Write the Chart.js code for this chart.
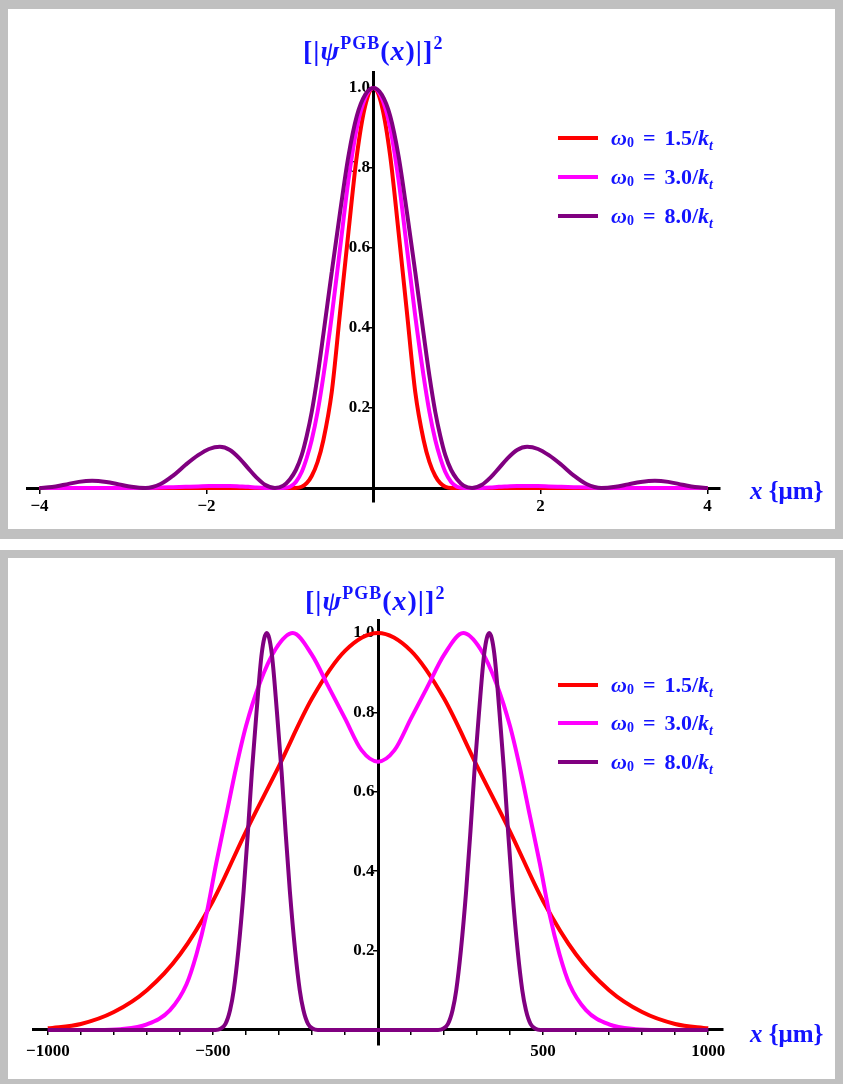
<!DOCTYPE html>
<html>
<head>
<meta charset="utf-8">
<script src="https://cdn.jsdelivr.net/npm/chart.js@4.4.1/dist/chart.umd.min.js"></script>
<style>
body{margin:0;width:843px;height:1084px;background:#fff;position:relative;overflow:hidden;font-family:"Liberation Serif",serif}
.frame{position:absolute;left:0;width:843px;box-sizing:border-box;border:8px solid #c0c0c0;background:#fff}
canvas{position:absolute;left:0}
.ttl{position:absolute;color:#1414ff;font-weight:bold;font-size:28px;letter-spacing:1px;white-space:nowrap;line-height:1}
.ttl sup{font-size:18px;vertical-align:11px}
.xl{position:absolute;color:#1414ff;font-weight:bold;font-size:25px;white-space:nowrap;line-height:1}
.leg{position:absolute;left:558px;height:24px;display:flex;align-items:center;color:#1414ff;font-weight:bold;font-size:22px;white-space:nowrap}
.leg span.ln{display:inline-block;width:40px;height:4px;margin-right:13px}
.leg sub{font-size:14px;position:relative;top:5px;vertical-align:baseline}
.leg .eq{margin:0 9px}
</style>
</head>
<body>
<div class="frame" style="top:0;height:539px;border-top-width:9px;border-bottom-width:10px"></div>
<div class="frame" style="top:550px;height:537px"></div>
<canvas id="top" width="843" height="539" style="top:0"></canvas>
<canvas id="bot" width="843" height="534" style="top:550px"></canvas>

<div class="ttl" style="left:303px;top:34px">[|<i>ψ</i><sup>PGB</sup>(<i>x</i>)|]<sup>2</sup></div>
<div class="xl" style="left:750px;top:478px"><i>x</i> {μm}</div>
<div class="leg" style="top:126px"><span class="ln" style="background:#ff0000"></span><i>ω</i><sub>0</sub><span class="eq">=</span>1.5/<i>k<sub>t</sub></i></div>
<div class="leg" style="top:165px"><span class="ln" style="background:#ff00ff"></span><i>ω</i><sub>0</sub><span class="eq">=</span>3.0/<i>k<sub>t</sub></i></div>
<div class="leg" style="top:204px"><span class="ln" style="background:#800080"></span><i>ω</i><sub>0</sub><span class="eq">=</span>8.0/<i>k<sub>t</sub></i></div>

<div class="ttl" style="left:305px;top:584px">[|<i>ψ</i><sup>PGB</sup>(<i>x</i>)|]<sup>2</sup></div>
<div class="xl" style="left:750px;top:1021px"><i>x</i> {μm}</div>
<div class="leg" style="top:673px"><span class="ln" style="background:#ff0000"></span><i>ω</i><sub>0</sub><span class="eq">=</span>1.5/<i>k<sub>t</sub></i></div>
<div class="leg" style="top:711px"><span class="ln" style="background:#ff00ff"></span><i>ω</i><sub>0</sub><span class="eq">=</span>3.0/<i>k<sub>t</sub></i></div>
<div class="leg" style="top:750px"><span class="ln" style="background:#800080"></span><i>ω</i><sub>0</sub><span class="eq">=</span>8.0/<i>k<sub>t</sub></i></div>

<script>
// top panel, x in µm
const topX = [-4, -3.85, -3.7, -3.53, -3.37, -3.2, -3.05, -2.9, -2.73, -2.55, -2.4, -2.25, -2.1, -1.97, -1.84, -1.72, -1.6, -1.5, -1.4, -1.3, -1.18, -1.08, -1, -0.93, -0.86, -0.8, -0.74, -0.67, -0.6, -0.5, -0.4, -0.3, -0.2, -0.1, 0,
  0.1, 0.2, 0.3, 0.4, 0.5, 0.6, 0.67, 0.74, 0.8, 0.86, 0.93, 1, 1.08, 1.18, 1.3, 1.4, 1.5, 1.6, 1.72, 1.84, 1.97, 2.1, 2.25, 2.4, 2.55, 2.73, 2.9, 3.05, 3.2, 3.37, 3.53, 3.7, 3.85, 4];
const topRed = [0, 0, 0, 0, 0, 0, 0, 0, 0, 0, 0, 0, 0, 0, 0, 0, 0, 0, 0, 0, 0, 0, 0, 0, 0.003, 0.012, 0.03, 0.065, 0.12, 0.24, 0.44, 0.64, 0.83, 0.955, 1,
  0.955, 0.83, 0.64, 0.44, 0.24, 0.12, 0.065, 0.03, 0.012, 0.003, 0, 0, 0, 0, 0, 0, 0, 0, 0, 0, 0, 0, 0, 0, 0, 0, 0, 0, 0, 0, 0, 0, 0, 0];
const topMagenta = [0, 0, 0, 0, 0, 0, 0, 0, 0, 0.001, 0.002, 0.003, 0.004, 0.005, 0.005, 0.005, 0.004, 0.003, 0.001, 0, 0, 0, 0.003, 0.015, 0.04, 0.075, 0.12, 0.19, 0.28, 0.43, 0.6, 0.77, 0.9, 0.975, 1,
  0.975, 0.9, 0.77, 0.6, 0.43, 0.28, 0.19, 0.12, 0.075, 0.04, 0.015, 0.003, 0, 0, 0, 0.001, 0.003, 0.004, 0.005, 0.005, 0.005, 0.004, 0.003, 0.002, 0.001, 0, 0, 0, 0, 0, 0, 0, 0, 0];
const topPurple = [0, 0.0024, 0.0083, 0.0153, 0.018, 0.015, 0.009, 0.003, 0, 0.01, 0.031, 0.058, 0.082, 0.0975, 0.103, 0.095, 0.073, 0.049, 0.026, 0.008, 0, 0.006, 0.022, 0.045, 0.082, 0.13, 0.19, 0.28, 0.385, 0.54, 0.69, 0.83, 0.93, 0.983, 1,
  0.983, 0.93, 0.83, 0.69, 0.54, 0.385, 0.28, 0.19, 0.13, 0.082, 0.045, 0.022, 0.006, 0, 0.008, 0.026, 0.049, 0.073, 0.095, 0.103, 0.0975, 0.082, 0.058, 0.031, 0.01, 0, 0.003, 0.009, 0.015, 0.018, 0.0153, 0.0083, 0.0024, 0];
const topXTicks = [-4, -2, 2, 4];

// bottom panel
const botRedX = [-1000, -900, -800, -700, -600, -500, -400, -300, -200, -100, 0, 100, 200, 300, 400, 500, 600, 700, 800, 900, 1000];
const botRed = [0.004, 0.015, 0.045, 0.1, 0.19, 0.325, 0.5, 0.665, 0.835, 0.955, 1, 0.955, 0.835, 0.665, 0.5, 0.325, 0.19, 0.1, 0.045, 0.015, 0.004];
const botMagX = [-1000, -850, -780, -700, -630, -580, -550, -520, -490, -460, -430, -400, -360, -310, -258, -200, -150, -100, -50, 0,
  50, 100, 150, 200, 258, 310, 360, 400, 430, 460, 490, 520, 550, 580, 630, 700, 780, 850, 1000];
const botMagenta = [0, 0, 0.002, 0.014, 0.05, 0.115, 0.19, 0.29, 0.42, 0.54, 0.66, 0.765, 0.87, 0.96, 1, 0.945, 0.865, 0.785, 0.705, 0.676,
  0.705, 0.785, 0.865, 0.945, 1, 0.96, 0.87, 0.765, 0.66, 0.54, 0.42, 0.29, 0.19, 0.115, 0.05, 0.014, 0.002, 0, 0];
const botPurX = [-1000, -500, -492, -477, -462, -448, -437, -423, -407, -394, -382, -368, -352, -337, -322, -306, -292, -280, -267, -251, -237, -226, -212, -197, -182, 0,
  182, 197, 212, 226, 237, 251, 267, 280, 292, 306, 322, 337, 352, 368, 382, 394, 407, 423, 437, 448, 462, 477, 492, 500, 1000];
const botPurple = [0, 0, 0, 0.003, 0.015, 0.05, 0.1, 0.2, 0.35, 0.5, 0.65, 0.8, 0.95, 1, 0.95, 0.8, 0.65, 0.5, 0.35, 0.2, 0.1, 0.05, 0.015, 0.003, 0, 0,
  0, 0.003, 0.015, 0.05, 0.1, 0.2, 0.35, 0.5, 0.65, 0.8, 0.95, 1, 0.95, 0.8, 0.65, 0.5, 0.35, 0.2, 0.1, 0.05, 0.015, 0.003, 0, 0, 0];
const botXTicks = [-1000, -500, 500, 1000];
const botXMinor = [-900, -800, -700, -600, -400, -300, -200, -100, 100, 200, 300, 400, 600, 700, 800, 900];

const yTicks = [0.2, 0.4, 0.6, 0.8, 1.0];
const names = ["ω0 = 1.5/kt", "ω0 = 3.0/kt", "ω0 = 8.0/kt"];
const colors = ["#ff0000", "#ff00ff", "#800080"];

const tickFont = {family: "Liberation Serif", size: 17, weight: "bold"};

function pts(xs, ys) {
  return xs.map((x, i) => ({x: x, y: ys[i]}));
}
function noSize(s) {
  if (s.isHorizontal()) s.height = 0; else s.width = 0;
}
function setTicks(list) {
  return s => { s.ticks = list.map(v => ({value: v})); };
}

function panel(id, series, xr, yr, pad, xTicks, xAllTicks, xPad) {
  return new Chart(document.getElementById(id), {
    type: "line",
    data: {
      datasets: series.map((d, i) => ({
        label: names[i],
        data: d,
        borderColor: colors[i],
        borderWidth: 4,
        pointRadius: 0,
        fill: false,
        cubicInterpolationMode: "monotone",
        order: 3 - i,
        xAxisID: "x",
        yAxisID: "y"
      }))
    },
    options: {
      responsive: false,
      animation: false,
      devicePixelRatio: 1,
      layout: {padding: pad},
      plugins: {legend: {display: false}, tooltip: {enabled: false}},
      scales: {
        x: {
          type: "linear", min: xr[0], max: xr[1], position: {y: 0},
          afterFit: noSize, afterBuildTicks: setTicks(xTicks),
          grid: {display: false}, border: {display: false},
          ticks: {font: tickFont, color: "#000", padding: xPad, autoSkip: false, maxRotation: 0,
            callback: v => String(v).replace("-", "\u2212")}
        },
        y: {
          type: "linear", min: yr[0], max: yr[1], position: {x: 0},
          afterFit: noSize, afterBuildTicks: setTicks(yTicks),
          grid: {display: false}, border: {display: false},
          ticks: {font: tickFont, color: "#000", padding: 4, autoSkip: false,
            callback: v => v.toFixed(1) + "\u2009"}
        },
        xl: {
          type: "linear", axis: "x", min: xr[0], max: xr[1], position: {y: 0}, z: 1,
          afterFit: noSize, afterBuildTicks: setTicks(xAllTicks),
          grid: {drawOnChartArea: false, tickLength: 4, color: "#000", lineWidth: 1.5},
          border: {display: true, color: "#000", width: 3},
          ticks: {display: false}
        },
        yl: {
          type: "linear", axis: "y", min: yr[0], max: yr[1], position: {x: 0}, z: 1,
          afterFit: noSize, afterBuildTicks: setTicks(yTicks),
          grid: {drawOnChartArea: false, tickLength: 4, color: "#000", lineWidth: 1.5},
          border: {display: true, color: "#000", width: 3},
          ticks: {display: false}
        }
      }
    }
  });
}

panel("top",
  [pts(topX, topRed), pts(topX, topMagenta), pts(topX, topPurple)],
  [-4.15, 4.15], [-0.035, 1.04],
  {left: 27, right: 123, top: 72, bottom: 37},
  topXTicks, topXTicks, 0);

panel("bot",
  [pts(botRedX, botRed), pts(botMagX, botMagenta), pts(botPurX, botPurple)],
  [-1045, 1045], [-0.038, 1.033],
  {left: 33, right: 120, top: 70, bottom: 39},
  botXTicks, botXTicks.concat(botXMinor), 3);
</script>
</body>
</html>
